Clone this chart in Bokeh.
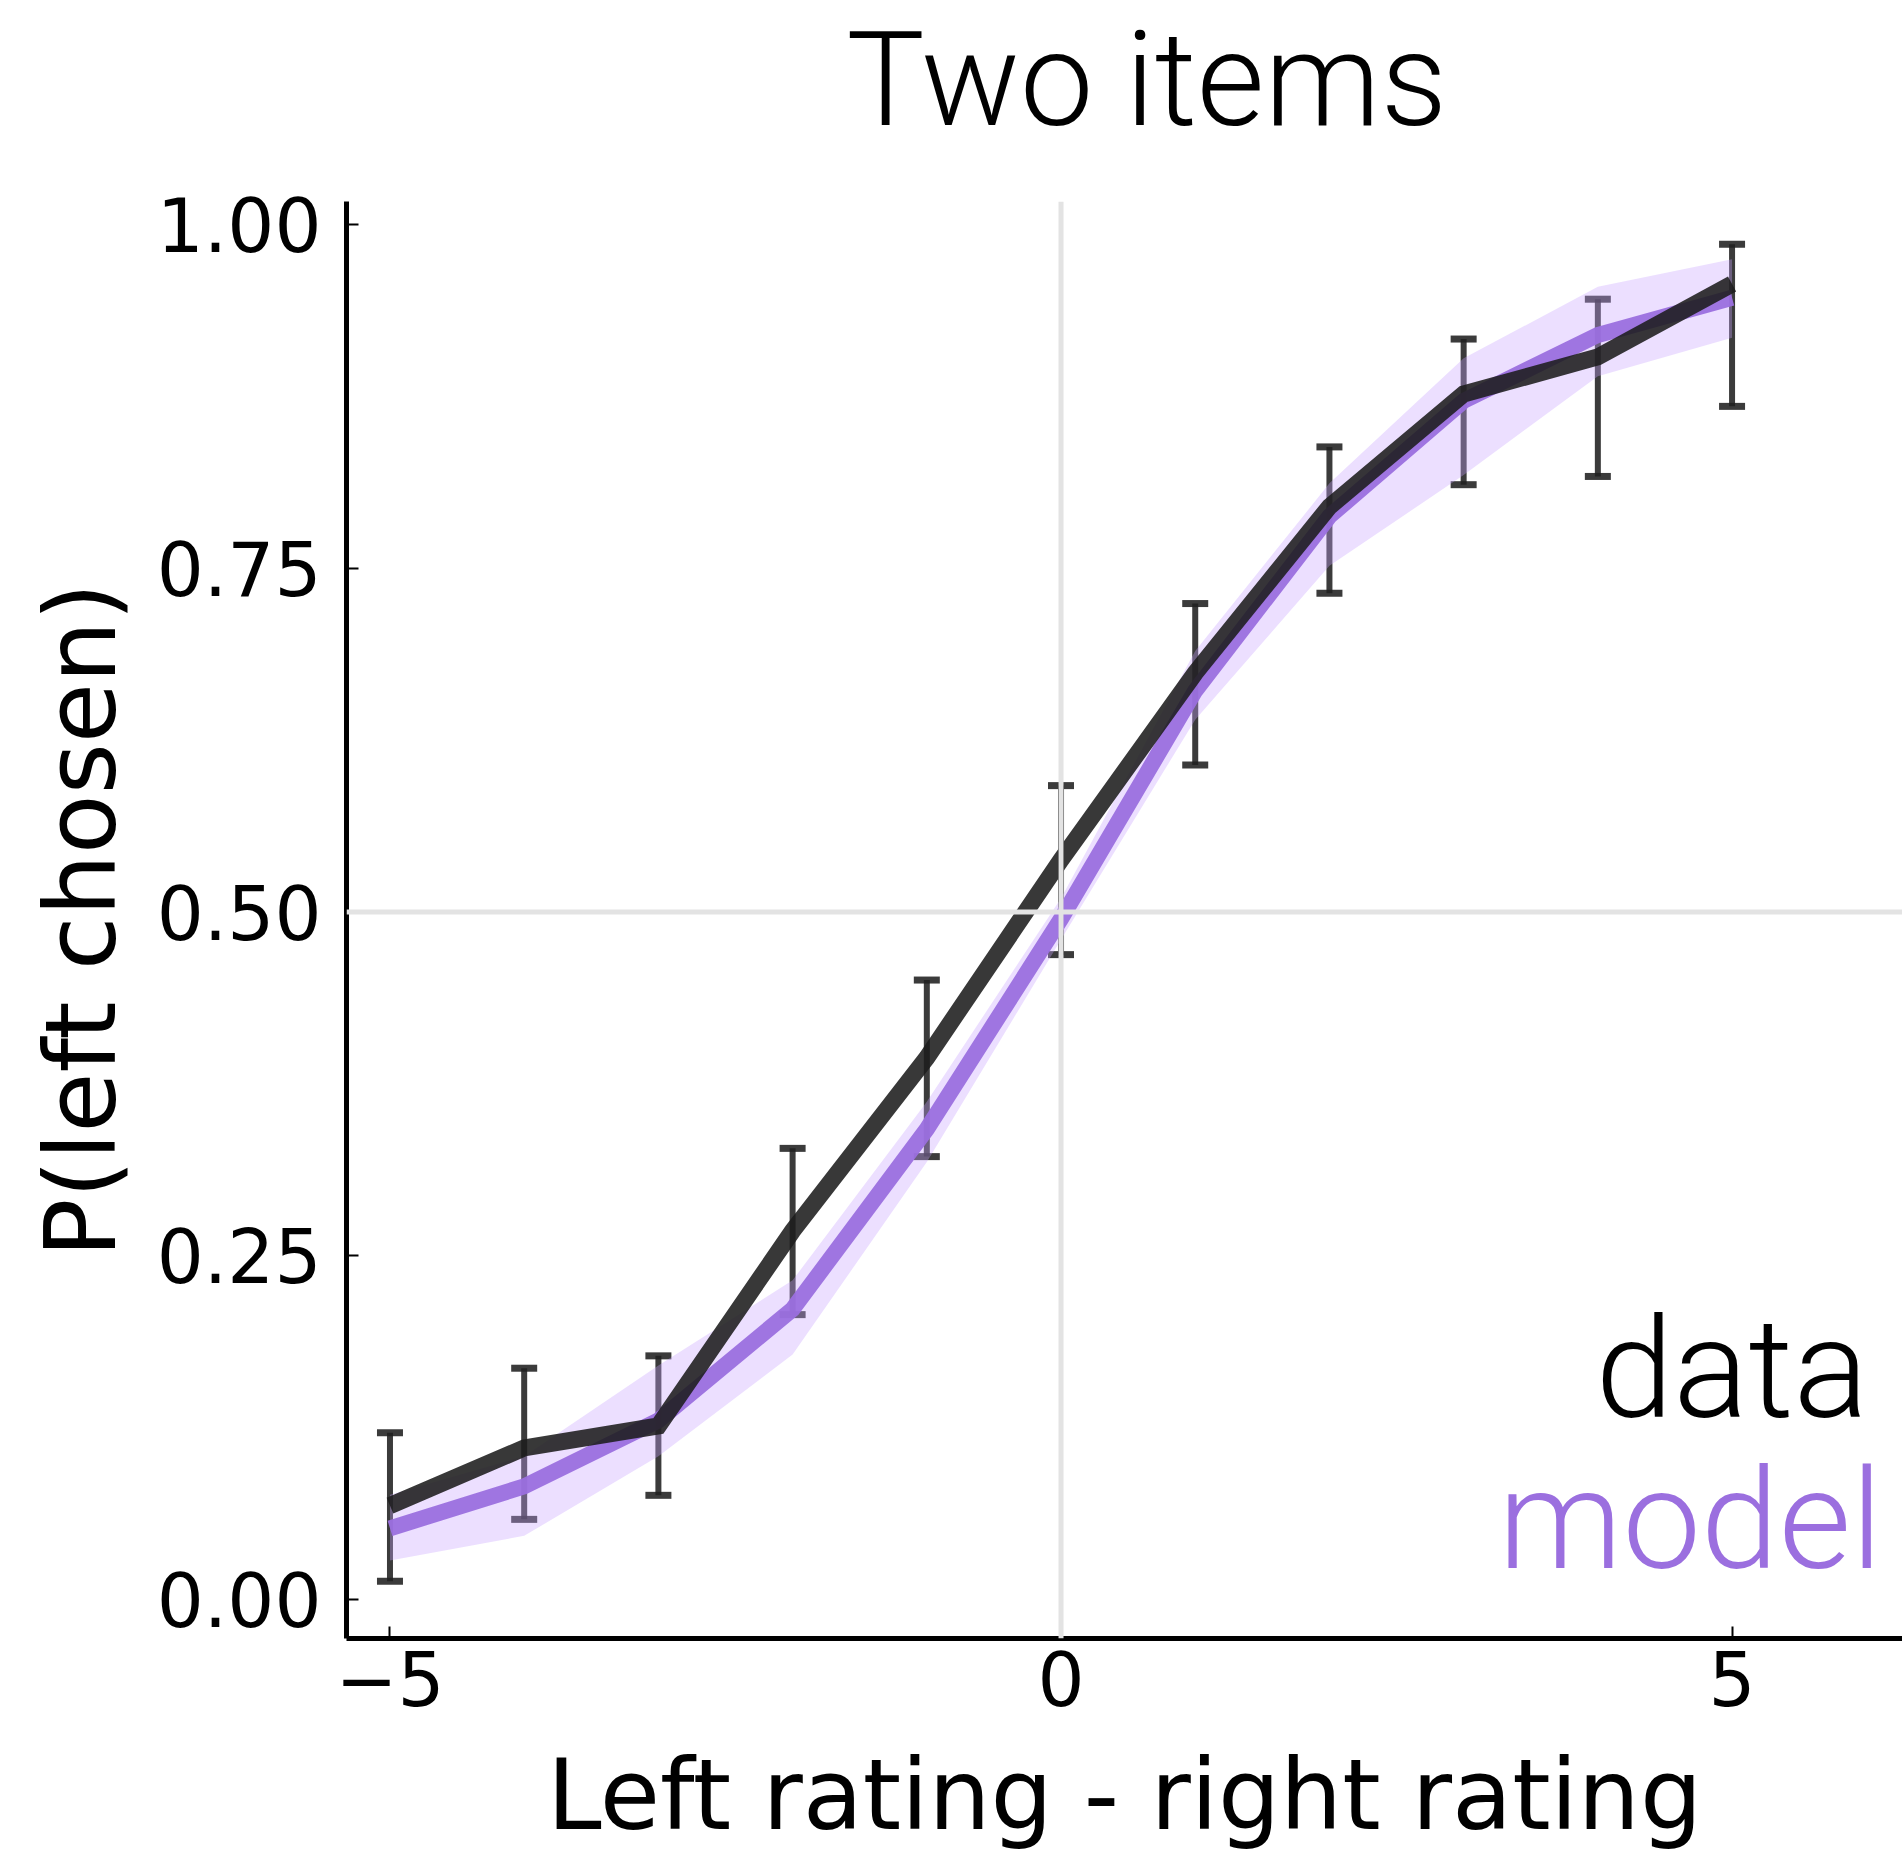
from bokeh.plotting import figure
from bokeh.models import (Range1d, FixedTicker, Span, Whisker, TeeHead, ColumnDataSource,
                          Label, PrintfTickFormatter, Title)
from bokeh.embed import file_html
from bokeh.resources import INLINE

# ---- data ----
rating_diff = [-5, -4, -3, -2, -1, 0, 1, 2, 3, 4, 5]
data_p = [0.068, 0.110, 0.126, 0.268, 0.394, 0.538, 0.674, 0.795, 0.877, 0.904, 0.957]
data_lo = [0.013, 0.058, 0.0755, 0.207, 0.322, 0.469, 0.607, 0.732, 0.811, 0.817, 0.868]
data_hi = [0.121, 0.168, 0.177, 0.328, 0.4505, 0.592, 0.7245, 0.8385, 0.917, 0.946, 0.986]
model_p = [0.0515, 0.082, 0.130, 0.211, 0.342, 0.495, 0.661, 0.788, 0.872, 0.920, 0.947]
model_band_lo = [0.028, 0.046, 0.104, 0.178, 0.318, 0.480, 0.640, 0.752, 0.818, 0.890, 0.918]
model_band_hi = [0.076, 0.104, 0.170, 0.232, 0.362, 0.510, 0.690, 0.812, 0.903, 0.955, 0.975]
x_ticks = [-5, 0, 5]
x_tick_labels = ["\u22125", "0", "5"]
y_ticks = [0.0, 0.25, 0.5, 0.75, 1.0]
title_text = "Two items"

PURPLE = "#9b6fdf"
LAVENDER = "#c9a2ff"
DARK = "#1c1c1c"
LIGHT_FONT = "Roboto Light"

p = figure(width=1902, height=1854, output_backend="svg", toolbar_location=None,
           x_range=Range1d(-5.324, 6.27), y_range=Range1d(-0.0287, 1.0171),
           min_border_left=346, min_border_right=0, min_border_top=199, min_border_bottom=214)
p.title_location = None
p.outline_line_color = None
p.xgrid.visible = False
p.ygrid.visible = False
p.background_fill_color = "white"
p.border_fill_color = "white"

# spacer between frame and title (closest to frame), then the title above it
spacer = Title(text=" ", text_font_size="10px", standoff=32)
p.add_layout(spacer, "above")
main_title = Title(text=title_text, text_font=LIGHT_FONT, text_font_size="131px",
                   text_font_style="normal", text_color="black", align="left",
                   offset=500, standoff=0, vertical_align="bottom")
p.add_layout(main_title, "above")

# axes
for ax in (p.xaxis[0], p.yaxis[0]):
    ax.axis_line_width = 5
    ax.axis_line_color = "black"
    ax.major_tick_in = 12
    ax.major_tick_out = 0
    ax.major_tick_line_width = 2
    ax.major_tick_line_color = "black"
    ax.minor_tick_line_color = None
    ax.major_label_text_font = "DejaVu Sans"
    ax.major_label_text_font_size = "74px"
    ax.major_label_text_color = "black"
    ax.axis_label_text_font = "DejaVu Sans"
    ax.axis_label_text_font_size = "98px"
    ax.axis_label_text_font_style = "normal"
    ax.axis_label_text_color = "black"

p.xaxis.ticker = FixedTicker(ticks=x_ticks)
p.xaxis.major_label_overrides = dict(zip(x_ticks, x_tick_labels))
p.xaxis.major_label_standoff = 12
p.xaxis.axis_label = "Left rating - right rating"
p.xaxis.axis_label_standoff = 29

p.yaxis.ticker = FixedTicker(ticks=y_ticks)
p.yaxis.formatter = PrintfTickFormatter(format="%.2f")
p.yaxis.major_label_standoff = 25
p.yaxis.axis_label = "P(left chosen)"
p.yaxis.axis_label_standoff = 16

# reference lines
p.add_layout(Span(location=0, dimension="height", line_color="#e3e3e3", line_width=5))
p.add_layout(Span(location=0.5, dimension="width", line_color="#e3e3e3", line_width=5))

src = ColumnDataSource(dict(x=rating_diff, p=data_p, lo=data_lo, hi=data_hi,
                            m=model_p, blo=model_band_lo, bhi=model_band_hi))

# model simulations envelope
p.varea(x="x", y1="blo", y2="bhi", source=src, fill_color=LAVENDER, fill_alpha=0.35)
# model mean
p.line(x="x", y="m", source=src, line_color=PURPLE, line_width=16, line_alpha=0.95,
       line_join="miter")
# data
p.line(x="x", y="p", source=src, line_color=DARK, line_width=17, line_alpha=0.88,
       line_join="miter")
wh = Whisker(base="x", lower="lo", upper="hi", source=src, dimension="height",
             line_color="#202020", line_alpha=0.88, line_width=6,
             upper_head=TeeHead(size=26, line_width=7, line_color="#202020", line_alpha=0.88),
             lower_head=TeeHead(size=26, line_width=7, line_color="#202020", line_alpha=0.88))
p.add_layout(wh)

# inline legend text
p.add_layout(Label(x=1522, y=270, x_units="screen", y_units="screen", text="data",
                   text_align="right", text_baseline="alphabetic",
                   text_font=LIGHT_FONT, text_font_size="140px",
                   text_color="black"))
p.add_layout(Label(x=1536, y=119, x_units="screen", y_units="screen", text="model",
                   text_align="right", text_baseline="alphabetic",
                   text_font=LIGHT_FONT, text_font_size="140px",
                   text_color=PURPLE))

open("out.html", "w").write(file_html(p, INLINE))
